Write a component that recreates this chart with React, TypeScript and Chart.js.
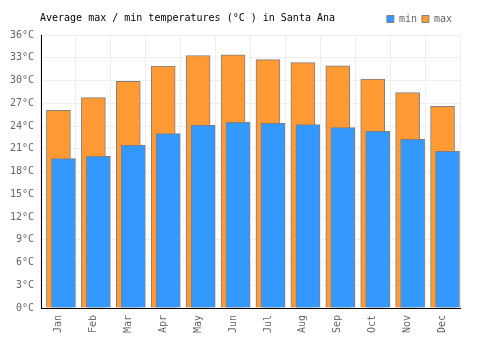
import React, { useEffect, useRef } from "react";
import { Chart, registerables } from "chart.js";

Chart.register(...registerables);

const TITLE = "Average max / min temperatures (°C ) in Santa Ana";
const MONTHS = ["Jan", "Feb", "Mar", "Apr", "May", "Jun", "Jul", "Aug", "Sep", "Oct", "Nov", "Dec"];
const MIN_TEMPS = [19.7, 20.0, 21.45, 23.0, 24.1, 24.5, 24.35, 24.2, 23.8, 23.3, 22.25, 20.65];
const MAX_TEMPS = [26.05, 27.75, 29.9, 31.9, 33.3, 33.4, 32.75, 32.35, 31.95, 30.2, 28.4, 26.6];
const Y_MIN = 0;
const Y_MAX = 36;
const Y_STEP = 3;

const FONT = "'DejaVu Sans Mono', monospace";
const MIN_SHIFT = 0.143; // fraction of a category the front bar is shifted right

const titlePlugin = {
  id: "customTitle",
  afterLayout(chart: any) {
    if (chart.legend) {
      chart.legend.right -= 3;
      chart.legend.left -= 3;
      chart.legend.top -= 1;
      chart.legend.bottom -= 1;
    }
  },
  afterDraw(chart: any) {
    const ctx = chart.ctx;
    ctx.save();
    ctx.font = `10px ${FONT}`;
    ctx.fillStyle = "#000";
    ctx.textAlign = "left";
    ctx.textBaseline = "middle";
    ctx.fillText(TITLE, 40, 18);
    ctx.restore();
  },
};

export default function App() {
  const ref = useRef<HTMLCanvasElement | null>(null);

  useEffect(() => {
    if (!ref.current) return;
    const chart = new Chart(ref.current, {
      type: "bar",
      data: {
        labels: MONTHS,
        datasets: [
          {
            label: "min",
            data: MIN_TEMPS.map((y, i) => ({ x: i, y })) as any,
            xAxisID: "x2",
            backgroundColor: "#3399ff",
            borderColor: "#808080",
            borderWidth: 1,
            barThickness: 24,
            grouped: false,
          } as any,
          {
            label: "max",
            data: MAX_TEMPS,
            xAxisID: "x",
            backgroundColor: "#ff9933",
            borderColor: "#808080",
            borderWidth: 1,
            barThickness: 24,
            grouped: false,
          } as any,
        ],
      },
      options: {
        animation: false,
        responsive: true,
        maintainAspectRatio: false,
        layout: { padding: { top: 10, right: 40, left: 0, bottom: 0 } },
        plugins: {
          title: { display: false },
          tooltip: { enabled: false },
          legend: {
            display: true,
            position: "top",
            align: "end",
            labels: {
              font: { family: FONT, size: 10 },
              color: "#666",
              boxWidth: 7,
              boxHeight: 7,
              padding: 5,
            },
          },
        },
        scales: {
          x: {
            type: "category",
            offset: true,
            grid: { color: "#eeeeee", drawTicks: false, offset: true },
            border: { color: "#000", width: 1 },
            ticks: {
              maxRotation: 90,
              minRotation: 90,
              padding: 7,
              color: "#666",
              font: { family: FONT, size: 10 },
            },
            afterFit(s: any) {
              s.height = 42;
            },
          },
          x2: {
            type: "linear",
            display: false,
            offset: false,
            grid: { offset: false },
            min: -0.5 - MIN_SHIFT,
            max: MONTHS.length - 0.5 - MIN_SHIFT,
          },
          y: {
            min: Y_MIN,
            max: Y_MAX,
            ticks: {
              stepSize: Y_STEP,
              padding: 7,
              color: "#666",
              font: { family: FONT, size: 10 },
              callback: (v: any) => `${v}°C`,
            },
            grid: { color: "#eeeeee", drawTicks: false },
            border: { color: "#000", width: 1 },
            afterFit(s: any) {
              s.width = 41;
            },
          },
        },
      } as any,
      plugins: [titlePlugin],
    });
    return () => chart.destroy();
  }, []);

  return (
    <div style={{ position: "fixed", left: 0, top: 0, width: 500, height: 350, background: "#fff" }}>
      <canvas ref={ref} />
    </div>
  );
}
